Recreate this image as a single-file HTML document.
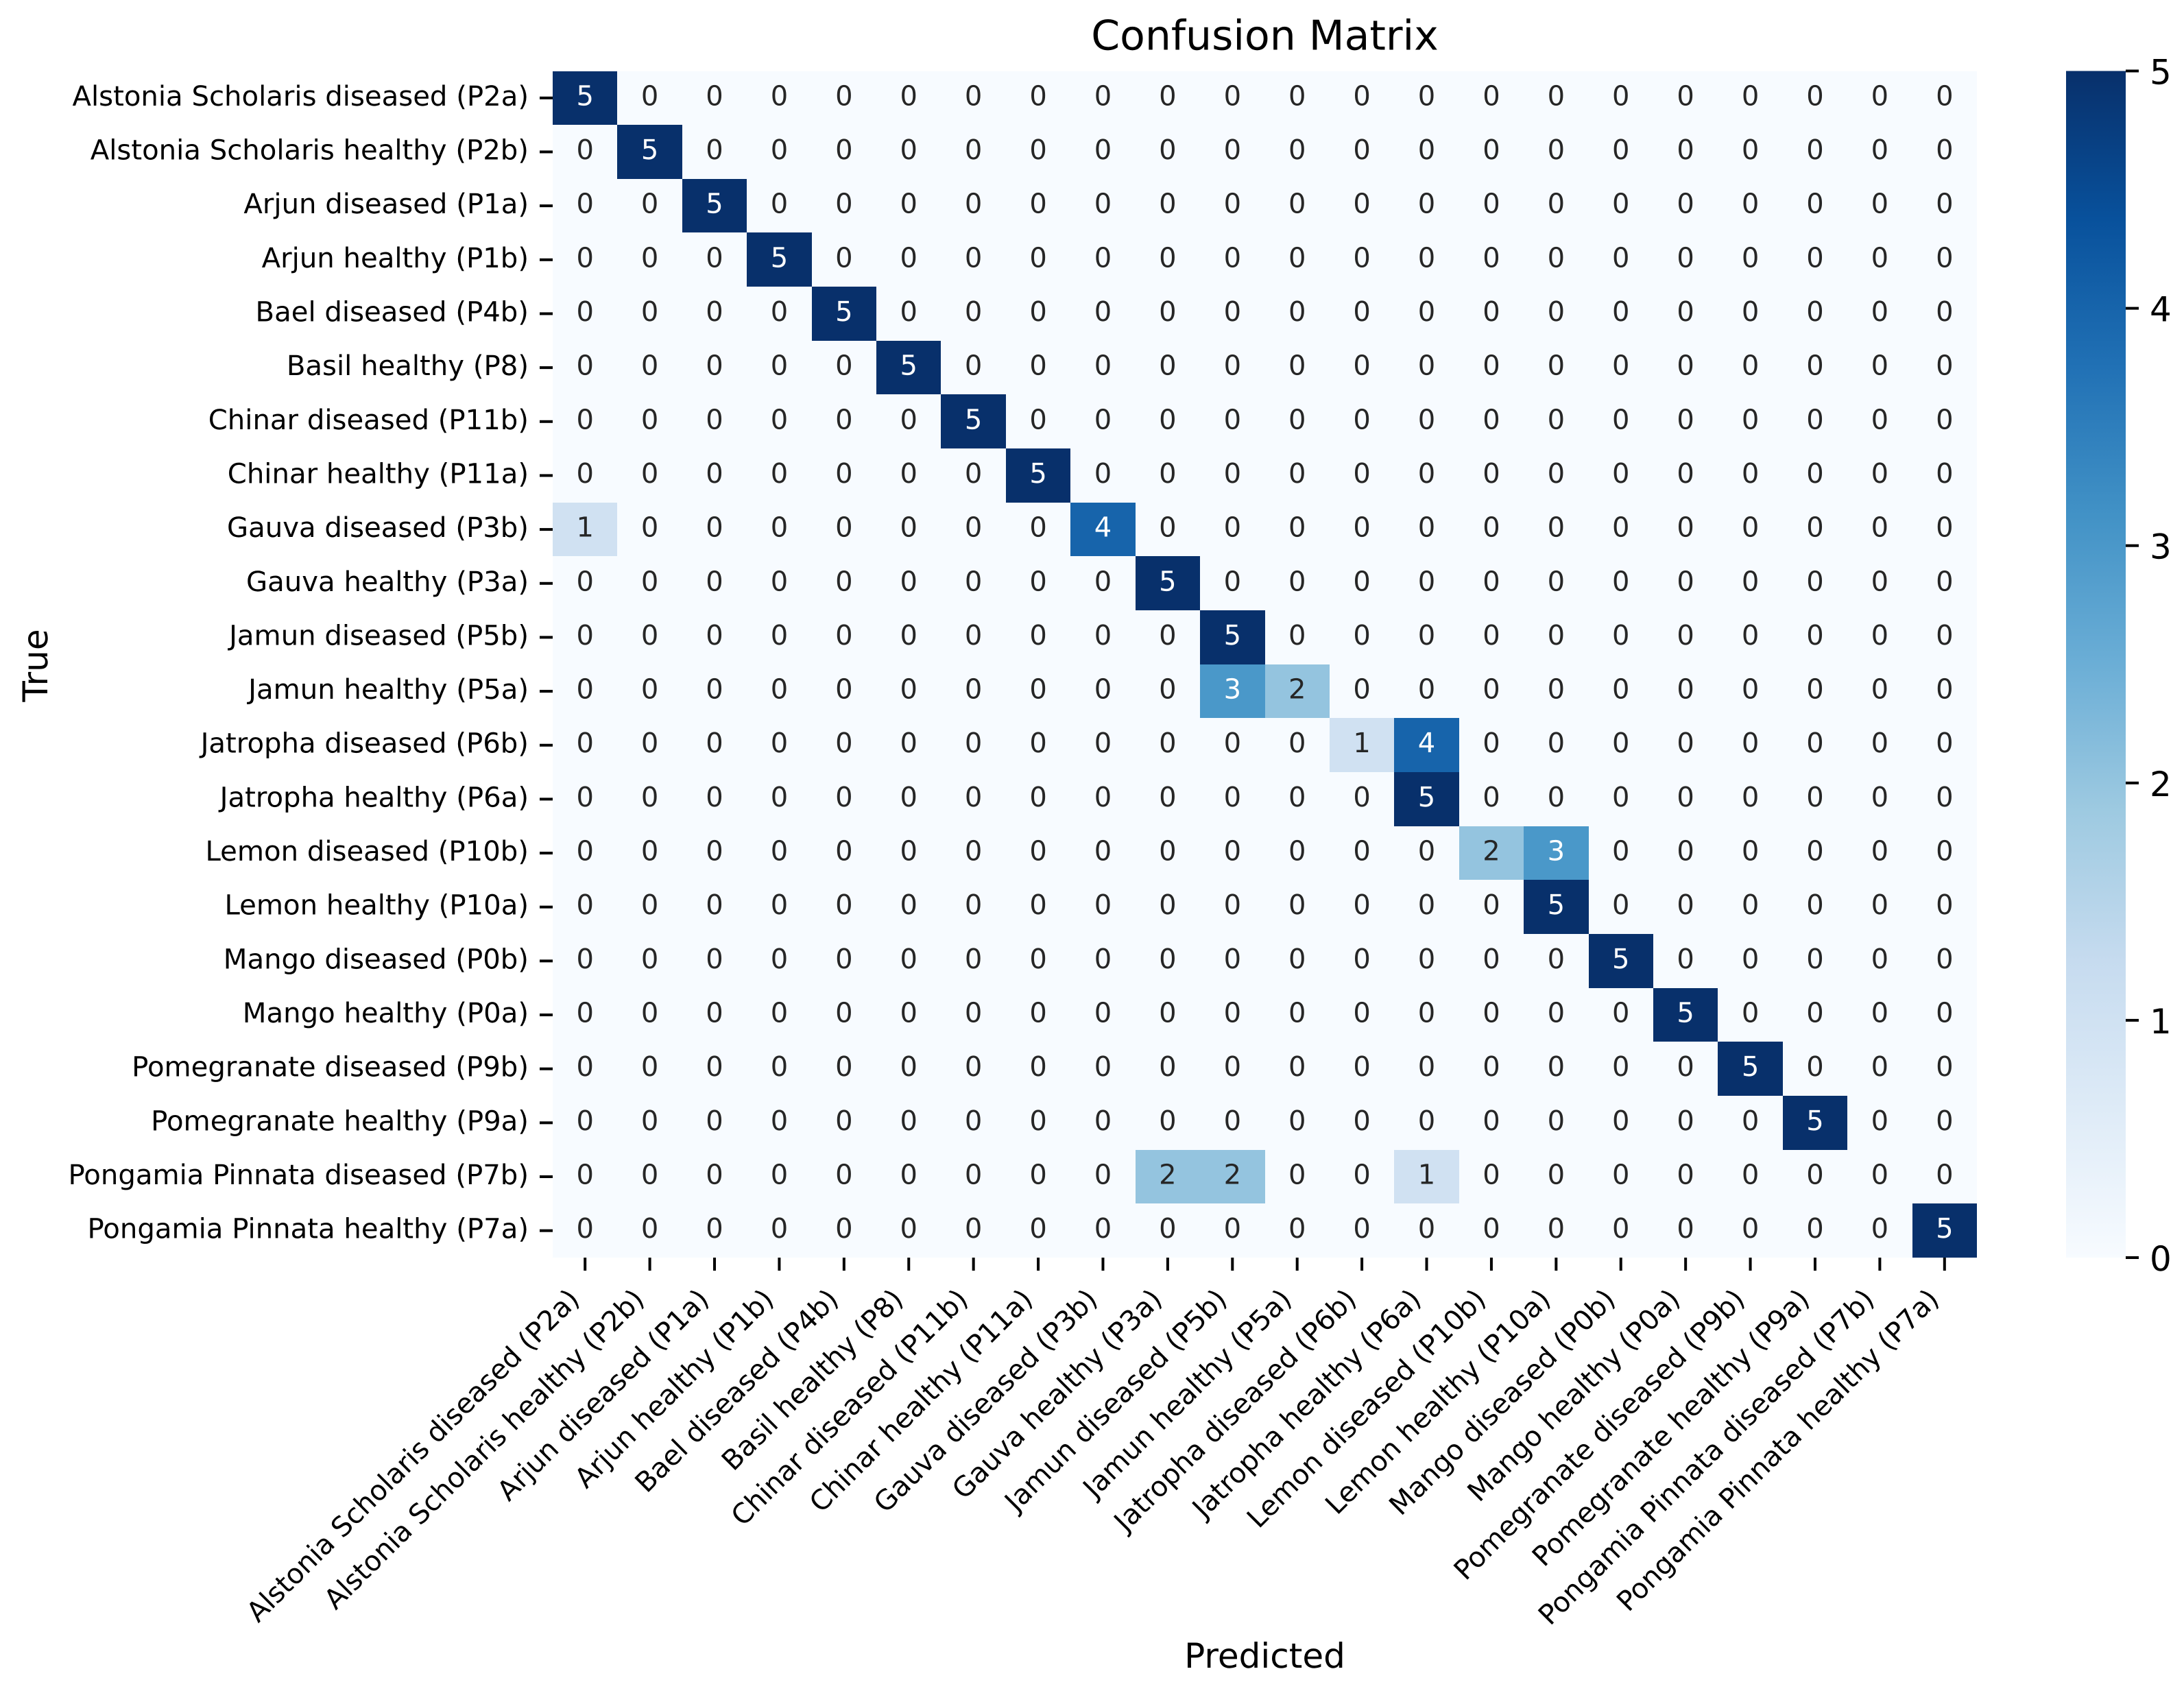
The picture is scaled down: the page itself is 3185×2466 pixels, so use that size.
<!DOCTYPE html>
<html lang="en">
<head>
<meta charset="utf-8">
<title>Confusion Matrix</title>
<style>
html,body{margin:0;padding:0;background:#fff;}
svg{display:block;}
text{font-family:"DejaVu Sans","Liberation Sans",sans-serif;text-rendering:geometricPrecision;}
</style>
</head>
<body>
<svg id="chart" xmlns="http://www.w3.org/2000/svg" width="3185" height="2466" viewBox="0 0 3185 2466">
  <defs>
    <linearGradient id="cbar-gradient" x1="0" y1="1" x2="0" y2="0"></linearGradient>
  </defs>
  <text x="1844.5" y="72.5" font-size="60" text-anchor="middle" fill="#000">Confusion Matrix</text>
  <text x="1844.5" y="2432" font-size="50" text-anchor="middle" fill="#000">Predicted</text>
  <text transform="translate(69,970.5) rotate(-90)" font-size="50" text-anchor="middle" fill="#000">True</text>
  <g id="cells"></g>
  <g id="annotations"></g>
  <g id="y-axis"></g>
  <g id="x-axis"></g>
  <g id="colorbar"></g>
</svg>
<script>
const categories = [
  "Alstonia Scholaris diseased (P2a)",
  "Alstonia Scholaris healthy (P2b)",
  "Arjun diseased (P1a)",
  "Arjun healthy (P1b)",
  "Bael diseased (P4b)",
  "Basil healthy (P8)",
  "Chinar diseased (P11b)",
  "Chinar healthy (P11a)",
  "Gauva diseased (P3b)",
  "Gauva healthy (P3a)",
  "Jamun diseased (P5b)",
  "Jamun healthy (P5a)",
  "Jatropha diseased (P6b)",
  "Jatropha healthy (P6a)",
  "Lemon diseased (P10b)",
  "Lemon healthy (P10a)",
  "Mango diseased (P0b)",
  "Mango healthy (P0a)",
  "Pomegranate diseased (P9b)",
  "Pomegranate healthy (P9a)",
  "Pongamia Pinnata diseased (P7b)",
  "Pongamia Pinnata healthy (P7a)"
];
const matrix = [
  [5,0,0,0,0,0,0,0,0,0,0,0,0,0,0,0,0,0,0,0,0,0],
  [0,5,0,0,0,0,0,0,0,0,0,0,0,0,0,0,0,0,0,0,0,0],
  [0,0,5,0,0,0,0,0,0,0,0,0,0,0,0,0,0,0,0,0,0,0],
  [0,0,0,5,0,0,0,0,0,0,0,0,0,0,0,0,0,0,0,0,0,0],
  [0,0,0,0,5,0,0,0,0,0,0,0,0,0,0,0,0,0,0,0,0,0],
  [0,0,0,0,0,5,0,0,0,0,0,0,0,0,0,0,0,0,0,0,0,0],
  [0,0,0,0,0,0,5,0,0,0,0,0,0,0,0,0,0,0,0,0,0,0],
  [0,0,0,0,0,0,0,5,0,0,0,0,0,0,0,0,0,0,0,0,0,0],
  [1,0,0,0,0,0,0,0,4,0,0,0,0,0,0,0,0,0,0,0,0,0],
  [0,0,0,0,0,0,0,0,0,5,0,0,0,0,0,0,0,0,0,0,0,0],
  [0,0,0,0,0,0,0,0,0,0,5,0,0,0,0,0,0,0,0,0,0,0],
  [0,0,0,0,0,0,0,0,0,0,3,2,0,0,0,0,0,0,0,0,0,0],
  [0,0,0,0,0,0,0,0,0,0,0,0,1,4,0,0,0,0,0,0,0,0],
  [0,0,0,0,0,0,0,0,0,0,0,0,0,5,0,0,0,0,0,0,0,0],
  [0,0,0,0,0,0,0,0,0,0,0,0,0,0,2,3,0,0,0,0,0,0],
  [0,0,0,0,0,0,0,0,0,0,0,0,0,0,0,5,0,0,0,0,0,0],
  [0,0,0,0,0,0,0,0,0,0,0,0,0,0,0,0,5,0,0,0,0,0],
  [0,0,0,0,0,0,0,0,0,0,0,0,0,0,0,0,0,5,0,0,0,0],
  [0,0,0,0,0,0,0,0,0,0,0,0,0,0,0,0,0,0,5,0,0,0],
  [0,0,0,0,0,0,0,0,0,0,0,0,0,0,0,0,0,0,0,5,0,0],
  [0,0,0,0,0,0,0,0,0,2,2,0,0,1,0,0,0,0,0,0,0,0],
  [0,0,0,0,0,0,0,0,0,0,0,0,0,0,0,0,0,0,0,0,0,5]
];
const colorbarTicks = [0,1,2,3,4,5];
const bluesPalette = ["#f7fbff","#deebf7","#c6dbef","#9ecae1","#6baed6","#4292c6","#2171b5","#08519c","#08306b"];

const SVG_NS = "http://www.w3.org/2000/svg";
const plotLeft = 806, plotRight = 2883, plotTop = 103.5, plotBottom = 1834;
const cbarLeft = 3013, cbarRight = 3100;
const tickLen = 19, tickWidth = 4;
const labelSize = 40.2, annotSize = 40, cbarLabelSize = 50;

const nCols = categories.length, nRows = categories.length;
const vMin = 0;
const vMax = Math.max(...matrix.map(r => Math.max(...r)));
const xScale = i => plotLeft + (plotRight - plotLeft) * i / nCols;
const yScale = i => plotTop + (plotBottom - plotTop) * i / nRows;
const cbarY = v => plotBottom - (plotBottom - plotTop) * (v - vMin) / (vMax - vMin);

function hexToRgb(h) {
  return [parseInt(h.slice(1,3),16), parseInt(h.slice(3,5),16), parseInt(h.slice(5,7),16)];
}
function colorFor(v) {
  const t = Math.min(1, Math.max(0, (v - vMin) / (vMax - vMin))) * (bluesPalette.length - 1);
  const k = Math.min(bluesPalette.length - 2, Math.floor(t));
  const a = hexToRgb(bluesPalette[k]), b = hexToRgb(bluesPalette[k + 1]);
  const f = t - k;
  return "rgb(" + a.map((c, n) => Math.round(c + (b[n] - c) * f)).join(",") + ")";
}
function annotColor(v) {
  const t = (v - vMin) / (vMax - vMin);
  return t >= 0.5 ? "#ffffff" : "#262626";
}
function make(tag, attrs, parent, text) {
  const el = document.createElementNS(SVG_NS, tag);
  for (const key in attrs) el.setAttribute(key, attrs[key]);
  if (text !== undefined) el.textContent = text;
  parent.appendChild(el);
  return el;
}

const cellsG = document.getElementById("cells");
const annotG = document.getElementById("annotations");
const yAxisG = document.getElementById("y-axis");
const xAxisG = document.getElementById("x-axis");
const cbarG = document.getElementById("colorbar");

matrix.forEach((row, r) => {
  row.forEach((v, c) => {
    const x0 = Math.round(xScale(c)), x1 = Math.round(xScale(c + 1));
    const y0 = Math.round(yScale(r)), y1 = Math.round(yScale(r + 1));
    const rect = make("rect", {x: x0, y: y0, width: x1 - x0, height: y1 - y0, fill: colorFor(v), "shape-rendering": "crispEdges"}, cellsG);
    
    
    const cx = (xScale(c) + xScale(c + 1)) / 2;
    const cy = (yScale(r) + yScale(r + 1)) / 2;
    const label = make("text", {x: cx, y: cy + 10.5, "font-size": annotSize, "text-anchor": "middle", fill: annotColor(v)}, annotG, String(v));
    
    
  });
});

categories.forEach((name, i) => {
  const cy = (yScale(i) + yScale(i + 1)) / 2;
  const yTick = make("rect", {x: plotLeft - tickLen, y: cy - tickWidth / 2, width: tickLen, height: tickWidth, fill: "#000"}, yAxisG);
  
  
  const yLabel = make("text", {x: 771, y: cy + 11, "font-size": labelSize, "text-anchor": "end", fill: "#000"}, yAxisG, name);
  
  

  const cx = (xScale(i) + xScale(i + 1)) / 2;
  const xTick = make("rect", {x: cx - tickWidth / 2, y: plotBottom, width: tickWidth, height: tickLen, fill: "#000"}, xAxisG);
  
  
  const xLabel = make("text", {transform: "translate(" + (cx - 6) + "," + (plotBottom + 63) + ") rotate(-45)", "font-size": labelSize, "text-anchor": "end", fill: "#000"}, xAxisG, name);
  
  
});

const gradient = document.getElementById("cbar-gradient");
bluesPalette.forEach((hex, i) => {
  make("stop", {offset: i / (bluesPalette.length - 1), "stop-color": hex}, gradient);
});
const cbarRect = make("rect", {x: cbarLeft, y: plotTop, width: cbarRight - cbarLeft, height: plotBottom - plotTop, fill: "url(#cbar-gradient)"}, cbarG);


colorbarTicks.forEach(v => {
  const y = cbarY(v);
  const cTick = make("rect", {x: cbarRight, y: y - tickWidth / 2, width: tickLen, height: tickWidth, fill: "#000"}, cbarG);
  
  
  const cLabel = make("text", {x: 3135, y: y + 19, "font-size": cbarLabelSize, fill: "#000"}, cbarG, String(v));
  
  
});
</script>
</body>
</html>
